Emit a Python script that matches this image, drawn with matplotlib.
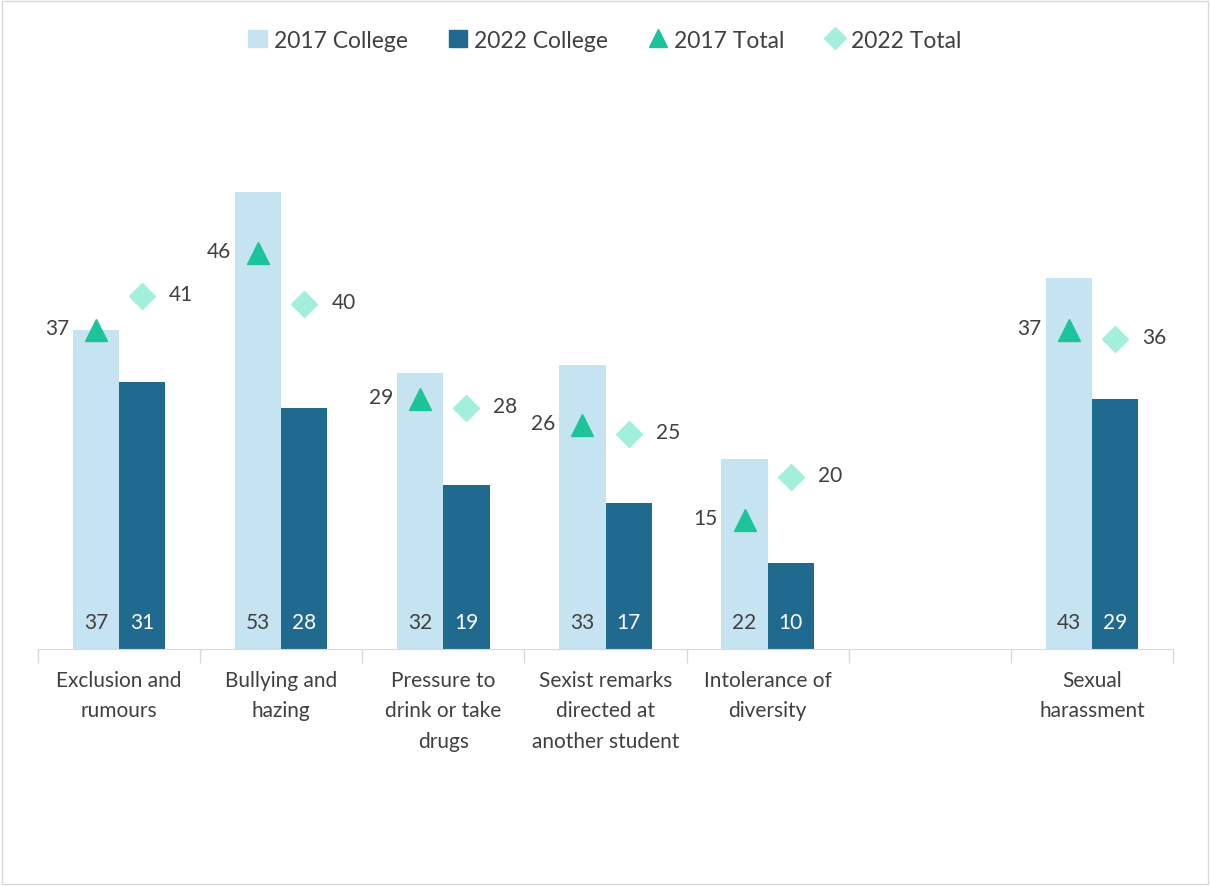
import matplotlib.pyplot as plt
from matplotlib.lines import Line2D
from matplotlib.patches import Patch, Rectangle
import numpy as np

categories = ['Exclusion and\nrumours', 'Bullying and\nhazing', 'Pressure to\ndrink or take\ndrugs',
              'Sexist remarks\ndirected at\nanother student', 'Intolerance of\ndiversity', '',
              'Sexual\nharassment']
college_2017 = [37, 53, 32, 33, 22, np.nan, 43]
college_2022 = [31, 28, 19, 17, 10, np.nan, 29]
total_2017 = [37, 46, 29, 26, 15, np.nan, 37]
total_2022 = [41, 40, 28, 25, 20, np.nan, 36]

c_light = '#C5E3F1'
c_dark = '#1F6A8E'
c_tri = '#1DC49B'
c_dia = '#A3EFDD'
c_text = '#404040'

plt.rcParams['font.family'] = ['Lato', 'DejaVu Sans']

fig = plt.figure(figsize=(12.1, 8.87), dpi=100)
ax = fig.add_axes([38 / 1210, 1 - 650 / 887, (1173 - 38) / 1210, (650 - 133) / 887])
fig.patches.append(Rectangle((0.002, 0.002), 0.996, 0.996, transform=fig.transFigure,
                             fill=False, edgecolor='#D9D9D9', linewidth=1))

x = np.arange(len(categories))
w = 0.285
ax.bar(x - w / 2, college_2017, w, color=c_light, label='2017 College')
ax.bar(x + w / 2, college_2022, w, color=c_dark, label='2022 College')
ax.plot(x - w / 2, total_2017, linestyle='none', marker='^', ms=16, color=c_tri)
ax.plot(x + w / 2, total_2022, linestyle='none', marker='D', ms=13, color=c_dia)

for i in range(len(categories)):
    if np.isnan(college_2017[i]):
        continue
    ax.annotate(str(college_2017[i]), (x[i] - w / 2, 0), xytext=(0, 27), textcoords='offset pixels',
                ha='center', va='center', fontsize=15, color=c_text)
    ax.annotate(str(college_2022[i]), (x[i] + w / 2, 0), xytext=(0, 27), textcoords='offset pixels',
                ha='center', va='center', fontsize=15, color='white')
    ax.annotate(str(total_2017[i]), (x[i] - w / 2, total_2017[i]), xytext=(-27, 2),
                textcoords='offset pixels', ha='right', va='center', fontsize=15, color=c_text)
    ax.annotate(str(total_2022[i]), (x[i] + w / 2, total_2022[i]), xytext=(27, 2),
                textcoords='offset pixels', ha='left', va='center', fontsize=15, color=c_text)

ax.set_xlim(-0.5, len(categories) - 0.5)
ax.set_ylim(0, 60)
ax.set_xticks(x)
ax.set_xticklabels(categories, fontsize=15, color=c_text, linespacing=1.65)
ax.set_xticks(np.arange(-0.5, len(categories)), minor=True)
ax.tick_params(axis='x', which='major', length=0, pad=15)
ax.tick_params(axis='x', which='minor', length=10, color='#D9D9D9', width=1)
ax.set_yticks([])
for s in ['top', 'right', 'left']:
    ax.spines[s].set_visible(False)
ax.spines['bottom'].set_color('#D9D9D9')

handles = [Patch(color=c_light), Patch(color=c_dark),
           Line2D([], [], linestyle='none', marker='^', ms=13, color=c_tri),
           Line2D([], [], linestyle='none', marker='D', ms=11, color=c_dia)]
fig.legend(handles, ['2017 College', '2022 College', '2017 Total', '2022 Total'],
           loc='center', bbox_to_anchor=(0.5, 1 - 41 / 887), ncol=4, frameon=False,
           fontsize=16.5, labelcolor=c_text, handlelength=0.8, handletextpad=0.3, columnspacing=1.8)

fig.savefig('out.png', dpi=100)
